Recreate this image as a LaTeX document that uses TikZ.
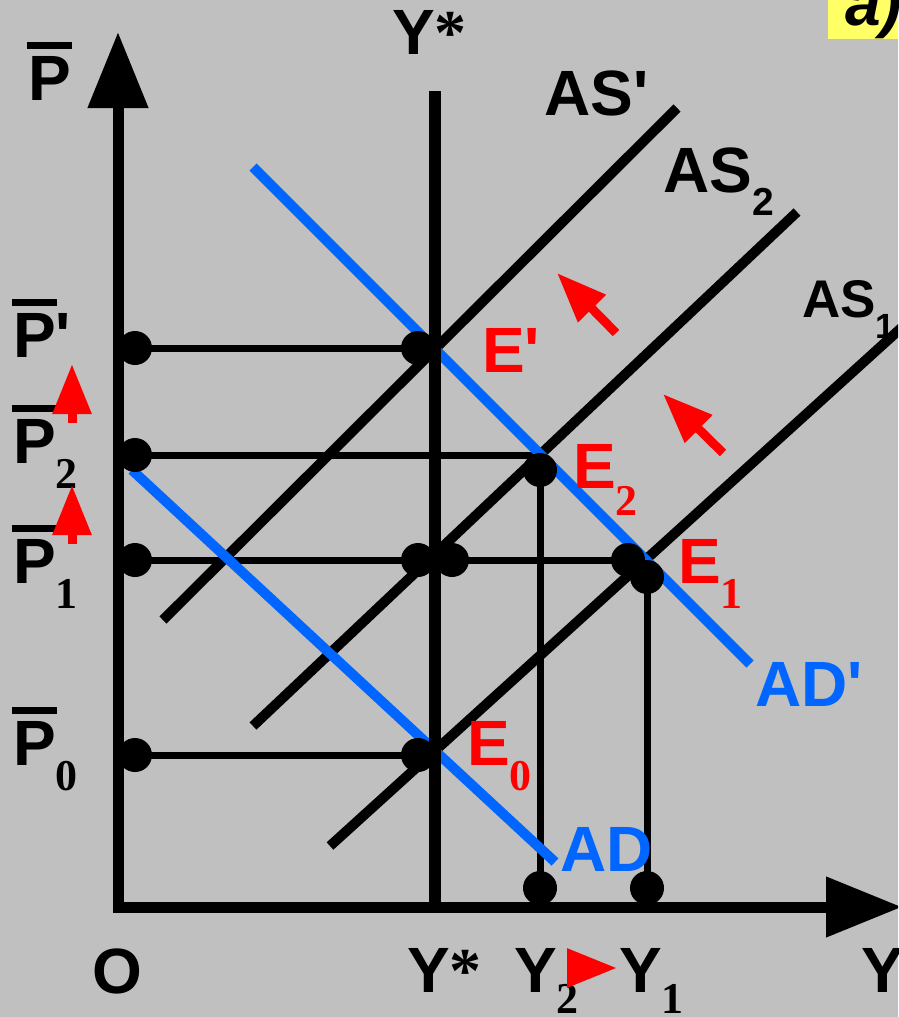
\documentclass[tikz,border=0pt]{standalone}
\usepackage{fontspec}
\setmainfont{Liberation Sans}[Ligatures=TeXOff]
\newfontfamily\subfont{Liberation Serif}
\usepackage{tikz}
\usetikzlibrary{arrows.meta}
\definecolor{panel}{HTML}{C0C0C0}
\definecolor{adblue}{HTML}{0066FF}
\definecolor{arrowred}{HTML}{FF0000}
\definecolor{tag}{HTML}{FFFF66}
\newcommand{\barP}{\rlap{\kern-1pt\raisebox{51pt}{\rule{45pt}{7pt}}}P}
\newcommand{\lowsub}[2][25pt]{\raisebox{-#1}{\subfont\fontsize{44}{44}\selectfont #2}}

\begin{document}
\begin{tikzpicture}[x=1pt,y=-1pt,
    lbl/.style={font=\bfseries\fontsize{64}{64}\selectfont,inner sep=0pt,anchor=base west},
    axis/.style={line width=11pt,{Triangle[length=76pt,width=58pt]}-{Triangle[length=76pt,width=58pt]}},
    curve/.style={line width=10pt}, demand/.style={curve,adblue},
    guide/.style={line width=7pt},
    dot/.style={circle,fill,inner sep=0pt,minimum size=34pt},
    push/.style={arrowred,line width=9pt,-{Triangle[length=50pt,width=37pt]}}]
    \useasboundingbox (0,0) rectangle (898,1017);
    \clip (0,0) rectangle (898,1017);
    \fill[panel] (0,0) rectangle (898,1017);
    \fill[tag] (828,0) rectangle (898,39);
    \node[lbl,font=\bfseries\itshape\fontsize{64}{64}\selectfont] (ltag) at (845,25) {a)};
    % price levels and equilibria
    \coordinate (Pp) at (135,348); \coordinate (Ep) at (418,348);
    \coordinate (P2) at (135,455); \coordinate (E2) at (540,470);
    \coordinate (P1) at (135,560); \coordinate (Y1a) at (418,560); \coordinate (Y1b) at (452,560);
    \coordinate (E1a) at (628,560); \coordinate (E1) at (647,577);
    \coordinate (P0) at (135,755); \coordinate (E0) at (418,755);
    \coordinate (Y2) at (540,888); \coordinate (Y1) at (647,888);
    \draw[guide] (Pp) -- (Ep);
    \draw[guide] (P2) -- (P2 -| Y2) -- (Y2);
    \draw[guide] (P1) -- (E1a);
    \draw[guide] (E1) -- (Y1);
    \draw[guide] (P0) -- (E0);
    % supply and demand curves
    \draw[curve] (163,620) coordinate (ASpL) -- (677,108) coordinate (ASpR);
    \draw[curve] (253,726) coordinate (AS2L) -- (797,212) coordinate (AS2R);
    \draw[curve] (330,846) coordinate (AS1L) -- (910,320) coordinate (AS1R);
    \draw[demand] (132,470) coordinate (ADL) -- (555,862) coordinate (ADR);
    \draw[demand] (253,167) coordinate (ADpL) -- (750,664) coordinate (ADpR);
    \foreach \c in {Pp,Ep,P2,E2,P1,Y1a,Y1b,E1a,E1,P0,E0,Y2,Y1}
      \node[dot] (dot-\c) at (\c) {};
    \draw[line width=12pt] (435,91) coordinate (Ytop) -- (435,907) coordinate (Ybot);
    \draw[axis] (118,32) coordinate (ytip) |- (902,907) coordinate (xtip);
    % labels
    \node[lbl] (lPbar) at (28,100) {\barP};
    \node[lbl] (lPp) at (13,357) {\barP'};
    \node[lbl] (lP2) at (13,463) {\barP\lowsub{2}};
    \node[lbl] (lP1) at (13,583) {\barP\lowsub{1}};
    \node[lbl] (lP0) at (13,765) {\barP\lowsub{0}};
    \node[lbl] (lYtop) at (392,54) {Y{\subfont *}};
    \node[lbl] (lASp) at (544,115) {AS'};
    \node[lbl] (lAS2) at (663,192) {AS\raisebox{-23pt}{\fontsize{39}{39}\selectfont 2}};
    \node[lbl,font=\bfseries\fontsize{53}{53}\selectfont] (lAS1) at (802,317) {AS\raisebox{-21pt}{\fontsize{35}{35}\selectfont 1}};
    \node[lbl,text=arrowred] (lEp) at (482,372) {E'};
    \node[lbl,text=arrowred] (lE2) at (573,488) {E\lowsub[27pt]{2}};
    \node[lbl,text=arrowred] (lE1) at (678,583) {E\lowsub{1}};
    \node[lbl,text=arrowred] (lE0) at (467,765) {E\lowsub{0}};
    \node[lbl,text=adblue] (lAD) at (560,871) {AD};
    \node[lbl,text=adblue] (lADp) at (755,706) {AD'};
    \node[lbl] (lO) at (92,993) {O};
    \node[lbl] (lYstar) at (407,992) {Y{\subfont *}};
    \node[lbl] (lY2) at (514,992) {Y\lowsub[21pt]{2}};
    \node[lbl] (lY1) at (619,992) {Y\lowsub[21pt]{1}};
    \node[lbl] (lY) at (861,992) {Y};
    % shifts
    \draw[push] (72,423) -- (72,364);
    \draw[push] (72,544) -- (72,485);
    \draw[push] (616,333) -- (557,273);
    \draw[push] (723,453) -- (663,394);
    \draw[push] (567,968) -- (617,968);
\end{tikzpicture}
\end{document}
